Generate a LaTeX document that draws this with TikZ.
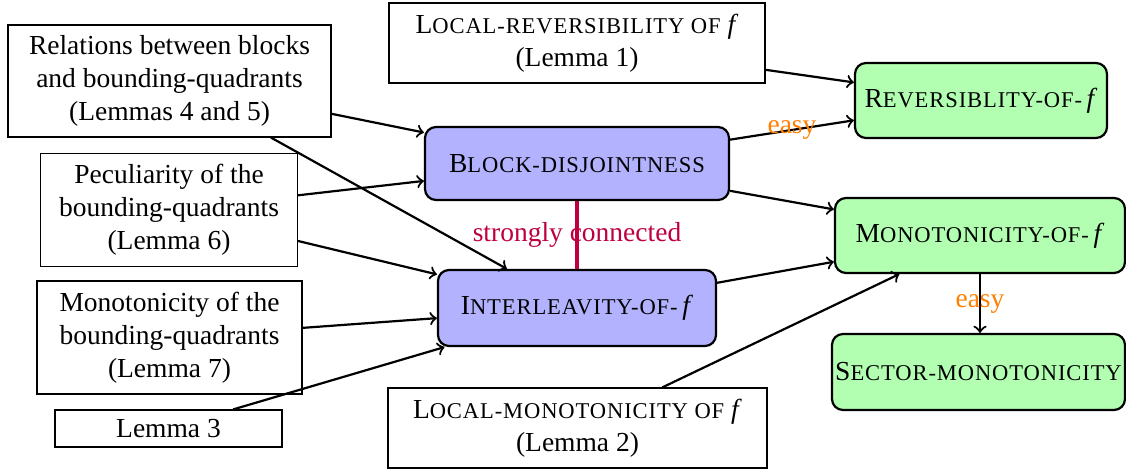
\documentclass[tikz,border=0pt]{standalone}
\usepackage{fontspec}
\setmainfont{Liberation Serif}
\newfontfamily\scfam[LetterSpace=4]{Liberation Serif}
\newcommand\fsc[2]{#1{\scfam\fontsize{8.2}{9.8}\selectfont #2}}
\def\pxu{0.3637pt}
\begin{document}
\begin{tikzpicture}[x=0.3637pt,y=-0.3637pt,
  plain/.style={draw, thin, align=center, inner sep=0pt},
  goal/.style={draw, thick, rounded corners=4pt, fill=green!30, inner sep=0pt, align=center},
  mid/.style={draw, thick, rounded corners=4pt, fill=blue!30, inner sep=0pt, align=center},
  arr/.style={->, thick},
  lbl/.style={text=orange}]
\useasboundingbox (0,0) rectangle (1126,472);
\node[plain, minimum width=323*\pxu, minimum height=112*\pxu] (rel) at (169.5,81) {Relations between blocks\\and bounding-quadrants\\(Lemmas 4 and 5)};
\node[plain, minimum width=376*\pxu, minimum height=80*\pxu] (lrev) at (577,43) {\fsc{L}{OCAL-REVERSIBILITY OF} \textit{f}\\(Lemma 1)};
\node[goal, minimum width=252*\pxu, minimum height=75*\pxu] (rev) at (981,100.5) {\fsc{R}{EVERSIBLITY-OF-}\,\textit{f}};
\node[mid, minimum width=304*\pxu, minimum height=73*\pxu] (blk) at (577,163.5) {\fsc{B}{LOCK-DISJOINTNESS}};
\node[plain, minimum width=257*\pxu, minimum height=113*\pxu] (pec) at (169,210) {Peculiarity of the\\bounding-quadrants\\(Lemma 6)};
\node[goal, minimum width=290*\pxu, minimum height=75*\pxu] (mono) at (980,235.5) {\fsc{M}{ONOTONICITY-OF-}\,\textit{f}};
\node[mid, minimum width=278*\pxu, minimum height=76*\pxu] (int) at (577,308) {\fsc{I}{NTERLEAVITY-OF-}\,\textit{f}};
\node[plain, minimum width=265*\pxu, minimum height=113*\pxu] (mq) at (169.5,337.5) {Monotonicity of the\\bounding-quadrants\\(Lemma 7)};
\node[goal, minimum width=293*\pxu, minimum height=76*\pxu] (sec) at (978.5,372) {\fsc{S}{ECTOR-MONOTONICITY}};
\node[plain, minimum width=227*\pxu, minimum height=37*\pxu] (l3) at (168.5,428.5) {Lemma 3};
\node[plain, minimum width=379*\pxu, minimum height=80*\pxu] (lmono) at (577.5,428) {\fsc{L}{OCAL-MONOTONICITY OF} \textit{f}\\(Lemma 2)};

\draw[arr] (lrev) -- (rev);
\draw[arr] (blk) -- node[lbl]{easy} (rev);
\draw[arr] (blk) -- (mono);
\draw[arr] (rel) -- (blk);
\draw[arr] (rel) -- (int);
\draw[arr] (pec) -- (blk);
\draw[arr] (pec) -- (int);
\draw[arr] (mq) -- (int);
\draw[arr] (l3) -- (int);
\draw[arr] (int) -- (mono);
\draw[arr] (lmono) -- (mono);
\draw[arr] (mono) -- node[lbl]{easy} (mono |- sec.north);
\draw[purple, line width=1.2pt] (blk) -- node[text=purple]{strongly connected} (int);
\end{tikzpicture}
\end{document}
